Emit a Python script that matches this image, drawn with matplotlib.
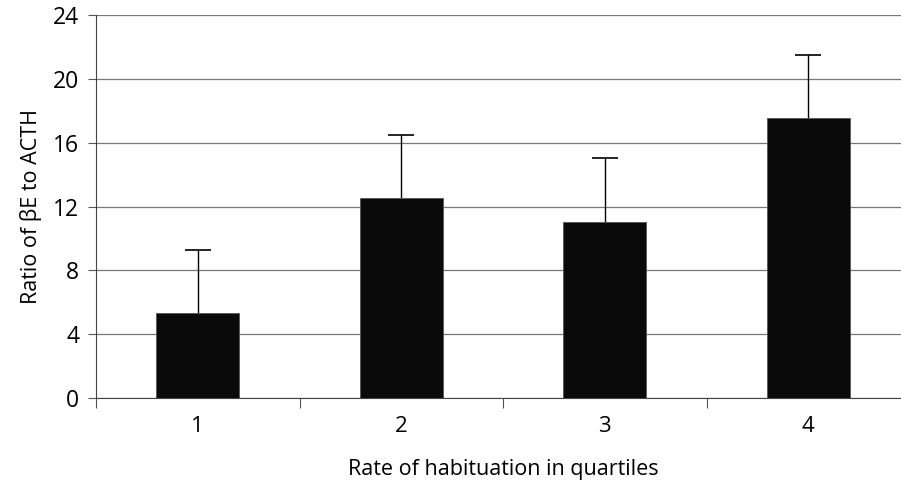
import matplotlib
matplotlib.use("Agg")
import matplotlib.pyplot as plt
import numpy as np

# quartiles of habituation rate
quartiles = ['1', '2', '3', '4']
ratio = [5.3, 12.55, 11.0, 17.55]
err_up = [3.95, 3.95, 4.05, 3.95]

plt.rcParams['font.family'] = ['Open Sans', 'DejaVu Sans']
plt.rcParams['font.size'] = 15.5

fig = plt.figure(figsize=(9.01, 4.8), dpi=100)
ax = fig.add_axes([96/901, 1 - 398/480, 814/901, 383/480])

x = np.arange(len(quartiles))
ax.bar(x, ratio, width=0.41, color='#0a0a0a', edgecolor='#555555', linewidth=0.6, zorder=3)
# only the upper error bar is shown
eb = ax.errorbar(x, ratio, yerr=[np.zeros(len(ratio)), err_up], fmt='none',
                 ecolor='black', elinewidth=1.0, capsize=9.5, capthick=1.2, zorder=2.5)
eb[1][0].set_visible(False)

ax.set_xlim(-0.5, 3.5)
ax.set_ylim(0, 24)
ax.set_yticks(np.arange(0, 25, 4))
ax.yaxis.grid(True, color='#777777', linewidth=0.9, zorder=0)
ax.set_axisbelow(True)

# ticks between categories, labels centred under bars
ax.set_xticks(np.arange(-0.5, 3.5, 1.0))
ax.set_xticklabels([])
ax.set_xticks(x, minor=True)
ax.set_xticklabels(quartiles, minor=True)
ax.tick_params(axis='x', which='major', length=7, direction='out', color='#555555')
ax.tick_params(axis='x', which='minor', length=0, pad=13, labelsize=16)
ax.tick_params(axis='y', length=6, direction='out', pad=6, color='#555555', labelsize=16.5)

for s in ['top', 'right']:
    ax.spines[s].set_visible(False)
ax.spines['left'].set_color('#444444')
ax.spines['bottom'].set_color('#444444')

ax.set_xlabel('Rate of habituation in quartiles', labelpad=16)
ax.set_ylabel('Ratio of \u03b2E to ACTH', labelpad=8)

plt.savefig('out.png', dpi=100)
